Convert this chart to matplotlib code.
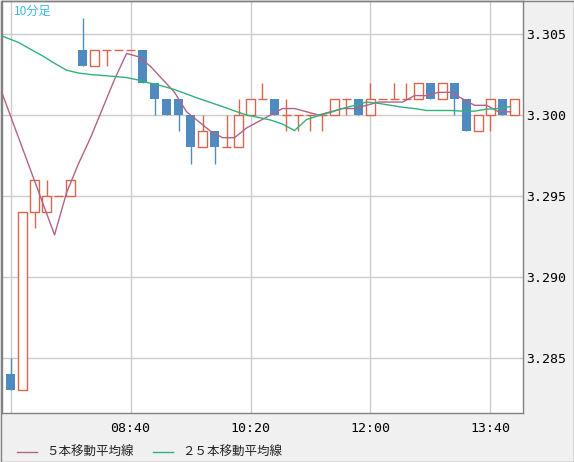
import matplotlib
matplotlib.use("Agg")
import numpy as np
import matplotlib.pyplot as plt
from matplotlib.lines import Line2D
from matplotlib.patches import Rectangle

# 10-minute bars, 07:00 .. 14:00
opens = [3.284, 3.283, 3.294, 3.294, 3.295, 3.295, 3.304, 3.303, 3.304, 3.304,
         3.304, 3.304, 3.302, 3.301, 3.301, 3.300, 3.298, 3.299, 3.298, 3.298,
         3.300, 3.301, 3.301, 3.300, 3.300, 3.300, 3.300, 3.300, 3.301, 3.301,
         3.300, 3.301, 3.301, 3.301, 3.301, 3.302, 3.301, 3.302, 3.301, 3.299,
         3.300, 3.301, 3.300]
highs = [3.285, 3.294, 3.296, 3.296, 3.295, 3.296, 3.306, 3.304, 3.304, 3.304,
         3.304, 3.304, 3.302, 3.301, 3.301, 3.300, 3.300, 3.299, 3.300, 3.301,
         3.301, 3.302, 3.301, 3.301, 3.300, 3.300, 3.300, 3.301, 3.301, 3.301,
         3.302, 3.301, 3.302, 3.302, 3.302, 3.302, 3.302, 3.302, 3.301, 3.300,
         3.301, 3.301, 3.301]
lows = [3.283, 3.283, 3.293, 3.294, 3.295, 3.295, 3.303, 3.303, 3.303, 3.304,
        3.304, 3.302, 3.300, 3.300, 3.299, 3.297, 3.298, 3.297, 3.298, 3.298,
        3.300, 3.301, 3.300, 3.299, 3.299, 3.299, 3.299, 3.300, 3.300, 3.300,
        3.300, 3.301, 3.301, 3.301, 3.301, 3.301, 3.301, 3.300, 3.299, 3.299,
        3.299, 3.300, 3.300]
closes = [3.283, 3.294, 3.296, 3.295, 3.295, 3.296, 3.303, 3.304, 3.304, 3.304,
          3.304, 3.302, 3.301, 3.300, 3.300, 3.298, 3.299, 3.298, 3.298, 3.300,
          3.301, 3.301, 3.300, 3.300, 3.300, 3.300, 3.300, 3.301, 3.301, 3.300,
          3.301, 3.301, 3.301, 3.301, 3.302, 3.301, 3.302, 3.301, 3.299, 3.300,
          3.301, 3.300, 3.301]

# moving averages, first value belongs to the bar before 07:00
ma5 = [3.3026, 3.3006, 3.2986, 3.2966, 3.2946, 3.2926, 3.2952, 3.2970, 3.2986,
       3.3004, 3.3022, 3.3038, 3.3036, 3.3030, 3.3022, 3.3014, 3.3002, 3.2996,
       3.2990, 3.2986, 3.2986, 3.2992, 3.2996, 3.3000, 3.3004, 3.3004, 3.3002,
       3.3000, 3.3002, 3.3004, 3.3004, 3.3006, 3.3008, 3.3008, 3.3008, 3.3012,
       3.3012, 3.3014, 3.3014, 3.3010, 3.3006, 3.3006, 3.3002, 3.3002]
ma25 = [3.30506, 3.30477, 3.30448, 3.30406, 3.30365, 3.30319, 3.30277, 3.30259,
        3.30250, 3.30244, 3.30238, 3.30231, 3.30216, 3.30196, 3.30179, 3.30157,
        3.30130, 3.30102, 3.30077, 3.30052, 3.30025, 3.30000, 3.29985, 3.29969,
        3.29944, 3.29904, 3.29972, 3.29996, 3.30016, 3.30040, 3.30060, 3.30080,
        3.30072, 3.30060, 3.30048, 3.30040, 3.30028, 3.30028, 3.30028, 3.30024,
        3.30024, 3.30036, 3.30040, 3.30052]

time_ticks = [10, 20, 30, 40]
time_labels = ["08:40", "10:20", "12:00", "13:40"]
price_ticks = [3.285, 3.290, 3.295, 3.300, 3.305]

RED = "#d9654b"
BLUE = "#4f8bbf"
PINK = "#b3628a"
GREEN = "#2db47a"
GRID = "#cccccc"

o = np.array(opens)
h = np.array(highs)
l = np.array(lows)
c = np.array(closes)
x = np.arange(len(o))

W, H = 574, 462
fig = plt.figure(figsize=(W / 100, H / 100), dpi=100, facecolor="#f0f0f0")
ax = fig.add_axes([2 / W, 1 - 413 / H, 521 / W, 412 / H])
ax.set_facecolor("white")

ax.set_xlim(-0.71, 42.71)
ax.set_ylim(3.2816, 3.30704)

ax.set_yticks(price_ticks)
ax.set_yticklabels([f"{p:.3f}" for p in price_ticks])
ax.set_xticks([0] + time_ticks)
ax.set_xticklabels([""] + time_labels)
ax.yaxis.tick_right()
ax.tick_params(axis="y", length=0, pad=2, labelsize=9.5, labelcolor="black")
ax.tick_params(axis="x", length=0, pad=6.5, labelsize=9.5, labelcolor="black")
for lab in ax.get_xticklabels() + ax.get_yticklabels():
    lab.set_family("DejaVu Sans Mono")
ax.grid(True, color=GRID, linewidth=1)
ax.set_axisbelow(True)
for s in ax.spines.values():
    s.set_color("#808080")
    s.set_linewidth(1)

bw = 0.72
bear = c < o
bull = c > o
doji = c == o

# wicks
ax.vlines(x[bear], l[bear], h[bear], color=BLUE, linewidth=1, zorder=2)
ax.vlines(x[~bear], l[~bear], h[~bear], color=RED, linewidth=1, zorder=2)

# bodies
ax.bar(x[bear], (o - c)[bear], bottom=c[bear], width=bw, color=BLUE,
       linewidth=0, zorder=3)
ax.bar(x[bull], (c - o)[bull], bottom=o[bull], width=bw, facecolor="white",
       edgecolor=RED, linewidth=1, zorder=3)
ax.hlines(c[doji], x[doji] - bw / 2, x[doji] + bw / 2, color=RED,
          linewidth=1, zorder=3)

# moving averages (drawn slightly left of the bar centres, as in the source)
xm = np.arange(-1, len(o)) - 0.33
ax.plot(xm, ma5, color=PINK, linewidth=1, zorder=4)
ax.plot(xm, ma25, color=GREEN, linewidth=1, zorder=4)

jp = ["Noto Sans CJK JP", "DejaVu Sans"]
ax.text(12 / 521, 1 - 10.5 / 412, "10分足", transform=ax.transAxes,
        family=jp, fontsize=8.7, color="#3db6ea", va="center", ha="left")

# legend along the bottom
ly = 1 - 452 / H
fig.add_artist(Line2D([16.5 / W, 36.5 / W], [ly, ly], color=PINK, linewidth=1))
fig.text(46 / W, ly, "５本移動平均線", family=jp, fontsize=9,
         color="#222222", va="center")
fig.add_artist(Line2D([153 / W, 173 / W], [ly, ly], color=GREEN, linewidth=1))
fig.text(182 / W, ly, "２５本移動平均線", family=jp, fontsize=9,
         color="#222222", va="center")

fig.add_artist(Rectangle((0.5 / W, 0.5 / H), 1 - 1 / W, 1 - 1 / H,
                         transform=fig.transFigure, fill=False,
                         edgecolor="#808080", linewidth=1))

fig.savefig("out.png", dpi=100, facecolor=fig.get_facecolor())
